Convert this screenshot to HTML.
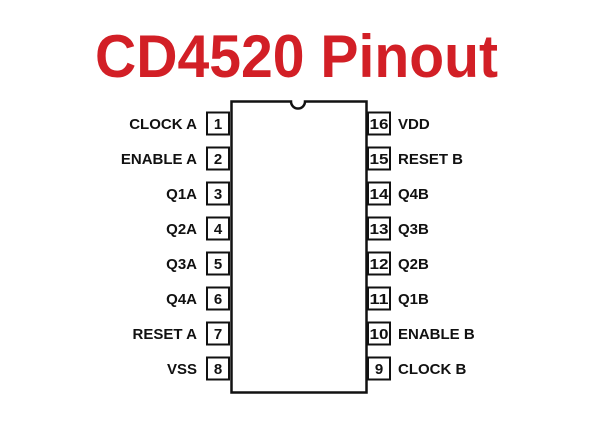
<!DOCTYPE html>
<html><head><meta charset="utf-8"><style>html,body{margin:0;padding:0;background:#fff}</style></head>
<body>
<svg width="602" height="436" viewBox="0 0 602 436" xmlns="http://www.w3.org/2000/svg">
<rect width="602" height="436" fill="#fff"/>
<text x="95" y="77" font-family="Liberation Sans, sans-serif" font-weight="bold" font-size="60" fill="#d21f26" textLength="403" lengthAdjust="spacingAndGlyphs">CD4520 Pinout</text>
<path d="M231.5 101.5 H291 A7 7 0 0 0 305 101.5 H366.5 V392.5 H231.5 Z" fill="#fff" stroke="#111" stroke-width="2.5"/>
<g stroke="#111" stroke-width="2" fill="#fff">
<rect x="207" y="112.5" width="22" height="22"/><rect x="207" y="147.5" width="22" height="22"/>
<rect x="207" y="182.5" width="22" height="22"/><rect x="207" y="217.5" width="22" height="22"/>
<rect x="207" y="252.5" width="22" height="22"/><rect x="207" y="287.5" width="22" height="22"/>
<rect x="207" y="322.5" width="22" height="22"/><rect x="207" y="357.5" width="22" height="22"/>
<rect x="368" y="112.5" width="22" height="22"/><rect x="368" y="147.5" width="22" height="22"/>
<rect x="368" y="182.5" width="22" height="22"/><rect x="368" y="217.5" width="22" height="22"/>
<rect x="368" y="252.5" width="22" height="22"/><rect x="368" y="287.5" width="22" height="22"/>
<rect x="368" y="322.5" width="22" height="22"/><rect x="368" y="357.5" width="22" height="22"/>
</g>
<g font-family="Liberation Sans, sans-serif" font-weight="bold" font-size="15" fill="#111" text-anchor="middle">
<text x="218" y="129">1</text><text x="218" y="164">2</text><text x="218" y="199">3</text><text x="218" y="234">4</text>
<text x="218" y="269">5</text><text x="218" y="304">6</text><text x="218" y="339">7</text><text x="218" y="374">8</text>
<text x="379" y="129" textLength="19" lengthAdjust="spacingAndGlyphs">16</text><text x="379" y="164" textLength="19" lengthAdjust="spacingAndGlyphs">15</text>
<text x="379" y="199" textLength="19" lengthAdjust="spacingAndGlyphs">14</text><text x="379" y="234" textLength="19" lengthAdjust="spacingAndGlyphs">13</text>
<text x="379" y="269" textLength="19" lengthAdjust="spacingAndGlyphs">12</text><text x="379" y="304" textLength="19" lengthAdjust="spacingAndGlyphs">11</text>
<text x="379" y="339" textLength="19" lengthAdjust="spacingAndGlyphs">10</text><text x="379" y="374">9</text>
</g>
<g font-family="Liberation Sans, sans-serif" font-weight="bold" font-size="15" fill="#111" text-anchor="end">
<text x="197" y="129">CLOCK A</text><text x="197" y="164">ENABLE A</text><text x="197" y="199">Q1A</text><text x="197" y="234">Q2A</text>
<text x="197" y="269">Q3A</text><text x="197" y="304">Q4A</text><text x="197" y="339">RESET A</text><text x="197" y="374">VSS</text>
</g>
<g font-family="Liberation Sans, sans-serif" font-weight="bold" font-size="15" fill="#111">
<text x="398" y="129">VDD</text><text x="398" y="164">RESET B</text><text x="398" y="199">Q4B</text><text x="398" y="234">Q3B</text>
<text x="398" y="269">Q2B</text><text x="398" y="304">Q1B</text><text x="398" y="339">ENABLE B</text><text x="398" y="374">CLOCK B</text>
</g>
</svg>
</body></html>
